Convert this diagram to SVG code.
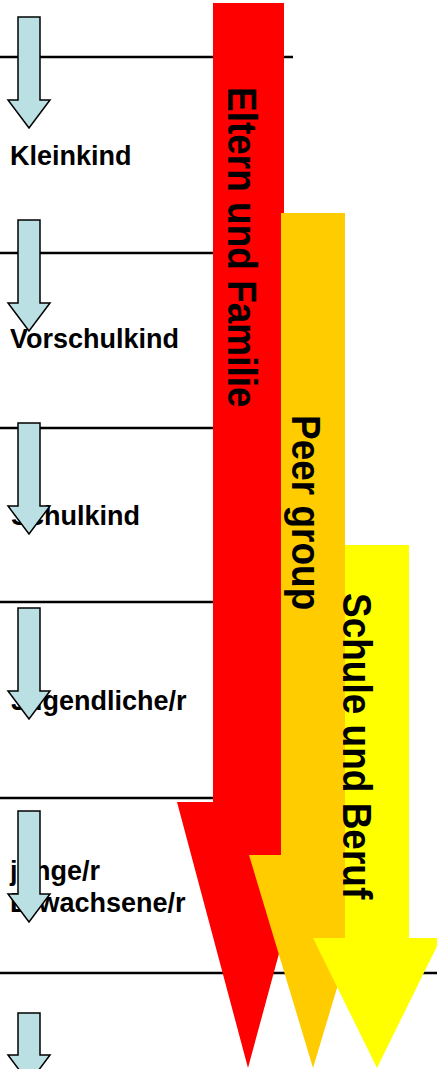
<svg xmlns="http://www.w3.org/2000/svg" width="437" height="1069" viewBox="0 0 437 1069">
  <defs>
    <style>
      .sep { stroke: #000; stroke-width: 2.5; fill: none; }
      .stage { fill: #BBE0E3; stroke: #000; stroke-width: 1.5; stroke-linejoin: miter; }
      .label { font-family: "Liberation Sans", Arial, sans-serif; font-weight: bold; font-size: 27px; fill: #000; }
      .vlabel { font-family: "Liberation Sans", Arial, sans-serif; font-weight: bold; font-size: 37px; fill: #000; }
    </style>
    <!-- small downward stage arrow, origin at top-left of shaft -->
    <path id="stageArrow" d="M18 0 H40 V83 H50 L29 111 L8 83 H18 Z"/>
  </defs>

  <rect width="437" height="1069" fill="#fff"/>

  <!-- separator lines between life stages -->
  <g id="separators">
    <line class="sep" x1="0" y1="57" x2="293" y2="57"/>
    <line class="sep" x1="0" y1="253" x2="293" y2="253"/>
    <line class="sep" x1="0" y1="428" x2="293" y2="428"/>
    <line class="sep" x1="0" y1="602" x2="293" y2="602"/>
    <line class="sep" x1="0" y1="798" x2="293" y2="798"/>
    <line class="sep" x1="0" y1="973" x2="437" y2="973"/>
  </g>

  <!-- stage labels -->
  <g id="stage-kleinkind"><text class="label" x="10" y="165">Kleinkind</text></g>
  <g id="stage-vorschulkind"><text class="label" x="10" y="348">Vorschulkind</text></g>
  <g id="stage-schulkind"><text class="label" x="11" y="525">Schulkind</text></g>
  <g id="stage-jugendliche"><text class="label" x="11" y="710">Jugendliche/r</text></g>
  <g id="stage-erwachsene"><text class="label" x="10" y="880">junge/r<tspan x="10" y="912">Erwachsene/r</tspan></text></g>

  <!-- stage transition arrows -->
  <g id="connectors">
    <use href="#stageArrow" class="stage" transform="translate(0,17)"/>
    <use href="#stageArrow" class="stage" transform="translate(0,220)"/>
    <use href="#stageArrow" class="stage" transform="translate(0,423)"/>
    <use href="#stageArrow" class="stage" transform="translate(0,608)"/>
    <use href="#stageArrow" class="stage" transform="translate(0,811)"/>
    <path class="stage" d="M18 1013 H40 V1055 H50 L29 1083 L8 1055 H18 Z"/>
  </g>

  <!-- influence arrows -->
  <g id="influence-eltern">
    <polygon fill="#FF0000" points="213,3 284,3 284,802 320,802 248,1068 177,802 213,802"/>
    <text class="vlabel" transform="translate(228,87) rotate(90) scale(1,1.08)">Eltern und Familie</text>
  </g>
  <g id="influence-peer">
    <polygon fill="#FFCC00" points="281,213 345,213 345,855 377,855 313,1068 249,855 281,855"/>
    <text class="vlabel" transform="translate(292,415) rotate(90) scale(1,1.08)">Peer group</text>
  </g>
  <g id="influence-schule">
    <polygon fill="#FFFF00" points="345,545 409,545 409,938 441,938 377,1068 313,938 345,938"/>
    <text class="vlabel" transform="translate(343,593) rotate(90) scale(1,1.08)">Schule und Beruf</text>
  </g>
</svg>
